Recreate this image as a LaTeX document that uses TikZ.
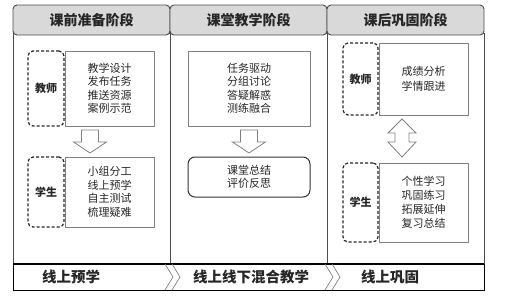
\documentclass[tikz,border=0pt]{standalone}
\usepackage{fontspec}
\setmainfont{Noto Sans CJK SC}
\usetikzlibrary{calc}
\definecolor{hdr}{gray}{0.85}
\definecolor{txt}{gray}{0.15}
\definecolor{edge}{gray}{0.3}
\definecolor{soft}{gray}{0.5}
\tikzset{
  colbody/.style={draw=edge, line width=0.9pt, minimum width=157pt, minimum height=231pt, inner sep=0pt},
  hdrbox/.style={draw=edge, fill=hdr, line width=0.9pt, rounded corners=4pt, minimum width=157pt, minimum height=30pt, inner sep=0pt, font=\fontsize{14}{16}\selectfont\bfseries, text=txt},
  rolebox/.style={draw=black!85, dashed, dash pattern=on 3pt off 2pt, line width=1.2pt, rounded corners=5pt, minimum width=36pt, inner sep=0pt, font=\fontsize{11}{13}\selectfont\bfseries, text=txt},
  itembox/.style={draw=soft, line width=0.8pt, minimum width=89pt, inner sep=0pt, align=center, font=\fontsize{11}{13.5}\selectfont, text=txt},
  sumbox/.style={draw=black!80, line width=1pt, rounded corners=7pt, minimum width=122pt, minimum height=40pt, inner sep=0pt, align=center, font=\fontsize{11}{13.5}\selectfont, text=txt},
  blockarrow/.style={draw=soft, fill=white, line width=0.8pt, line join=miter},
  barlabel/.style={font=\fontsize{14.5}{16}\selectfont\bfseries, text=txt},
  chev/.style={draw=soft, line width=0.7pt}
}
\begin{document}
\begin{tikzpicture}[x=1pt,y=-1pt]
\useasboundingbox[fill=white] (0,0) rectangle (514,297);

% column bodies
\node[colbody] (c1) at (91.5,148.5) {};
\node[colbody] (c2) at (248.5,148.5) {};
\node[colbody] (c3) at (405.5,148.5) {};

% headers
\node[hdrbox] (h1) at (91.5,20) {课前准备阶段};
\node[hdrbox] (h2) at (248.5,20) {课堂教学阶段};
\node[hdrbox] (h3) at (405.5,20) {课后巩固阶段};

% column 1
\node[rolebox, minimum height=75pt] (t1) at (46,88.5) {教师};
\node[itembox, minimum height=75pt, anchor=west] (t1i) at (t1.east) {教学设计\\发布任务\\推送资源\\案例示范};
\node[rolebox, minimum height=70pt] (s1) at (46,192) {学生};
\node[itembox, minimum height=70pt, anchor=west] (s1i) at (s1.east) {小组分工\\线上预学\\自主测试\\梳理疑难};
\coordinate (a1) at (90,130);
\draw[blockarrow] ($(a1)+(-8.5,0)$) -- ++(17,0) -- ++(0,12) -- ++(8,0) -- ++(-16.5,11) -- ++(-16.5,-11) -- ++(8,0) -- cycle;

% column 2
\node[itembox, minimum width=122pt, minimum height=75pt] (m1) at (249,88.5) {任务驱动\\分组讨论\\答疑解惑\\测练融合};
\node[sumbox] (m2) at (249,177) {课堂总结\\评价反思};
\coordinate (a2) at (249,130);
\draw[blockarrow] ($(a2)+(-8.5,0)$) -- ++(17,0) -- ++(0,12) -- ++(8,0) -- ++(-16.5,11) -- ++(-16.5,-11) -- ++(8,0) -- cycle;

% column 3
\node[rolebox, minimum width=35pt, minimum height=72pt] (t3) at (360.5,79) {教师};
\node[itembox, minimum height=72pt, anchor=west, font=\fontsize{11}{15}\selectfont] (t3i) at (t3.east) {成绩分析\\学情跟进};
\node[rolebox, minimum width=35pt, minimum height=79pt] (s3) at (360.5,202.5) {学生};
\node[itembox, minimum height=79pt, anchor=west, font=\fontsize{11}{14}\selectfont] (s3i) at (s3.east) {个性学习\\巩固练习\\拓展延伸\\复习总结};
\coordinate (a3) at (402,119);
\draw[blockarrow] (a3) -- ++(14,14) -- ++(-7,0) -- ++(0,9) -- ++(7,0) -- ++(-14,15) -- ++(-14,-15) -- ++(7,0) -- ++(0,-9) -- ++(-7,0) -- cycle;

% bottom bar
\draw[black, line width=0.8pt] (13,264) rectangle (484,290);
\draw[black, line width=1.6pt] (13,264) -- (484,264);
\draw[chev] (165,264) -- (173,277) -- (165,290);
\draw[chev] (172,264) -- (180,277) -- (172,290);
\draw[chev] (325,264) -- (333,277) -- (325,290);
\draw[chev] (332,264) -- (340,277) -- (332,290);
\node[barlabel] (b1) at (71,277) {线上预学};
\node[barlabel] (b2) at (251,277) {线上线下混合教学};
\node[barlabel] (b3) at (390,277) {线上巩固};
\end{tikzpicture}
\end{document}
